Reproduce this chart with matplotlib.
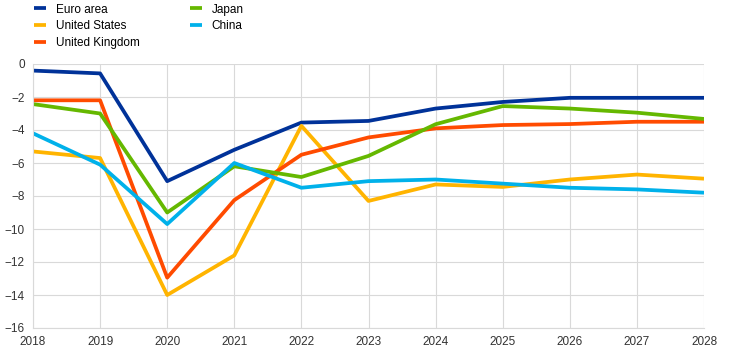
import matplotlib.pyplot as plt

years = list(range(2018, 2029))

euro_area = [-0.4, -0.57, -7.1, -5.2, -3.55, -3.45, -2.7, -2.3, -2.05, -2.05, -2.05]
united_states = [-5.3, -5.7, -14.0, -11.6, -3.75, -8.3, -7.3, -7.45, -7.0, -6.7, -6.95]
united_kingdom = [-2.2, -2.2, -12.95, -8.25, -5.5, -4.45, -3.9, -3.7, -3.64, -3.5, -3.5]
japan = [-2.43, -3.0, -9.0, -6.2, -6.85, -5.57, -3.65, -2.55, -2.7, -2.95, -3.33]
china = [-4.2, -6.1, -9.7, -6.0, -7.5, -7.1, -7.0, -7.25, -7.5, -7.6, -7.8]

series = [
    ("Euro area", euro_area, "#003299"),
    ("United States", united_states, "#FFB400"),
    ("United Kingdom", united_kingdom, "#FF4B00"),
    ("Japan", japan, "#65B800"),
    ("China", china, "#00B1EA"),
]

plt.rcParams["font.family"] = ["Liberation Sans", "DejaVu Sans"]

fig = plt.figure(figsize=(7.44, 3.58), dpi=100)
ax = fig.add_axes([33 / 744, 1 - 328 / 358, (704 - 33) / 744, (328 - 64) / 358])

for name, values, color in series:
    ax.plot(years, values, color=color, linewidth=2.7, label=name, solid_capstyle="butt")

ax.set_xlim(2018, 2028)
ax.set_ylim(-16, 0)
ax.set_xticks(years)
ax.set_yticks(range(-16, 1, 2))
ax.grid(True, color="#d9d9d9", linewidth=0.8)
ax.set_axisbelow(True)
for side in ["top", "right"]:
    ax.spines[side].set_visible(False)
for side in ["left", "bottom"]:
    ax.spines[side].set_color("#d9d9d9")
ax.tick_params(length=0, labelsize=8.5, colors="#333333", pad=6)

ax.legend(
    loc="upper left",
    bbox_to_anchor=(-0.005, 1.247),
    ncol=2,
    frameon=False,
    fontsize=8.5,
    handlelength=1.0,
    handletextpad=0.8,
    columnspacing=4.3,
    labelspacing=0.4,
    borderaxespad=0,
)

fig.savefig("out.png", dpi=100)
